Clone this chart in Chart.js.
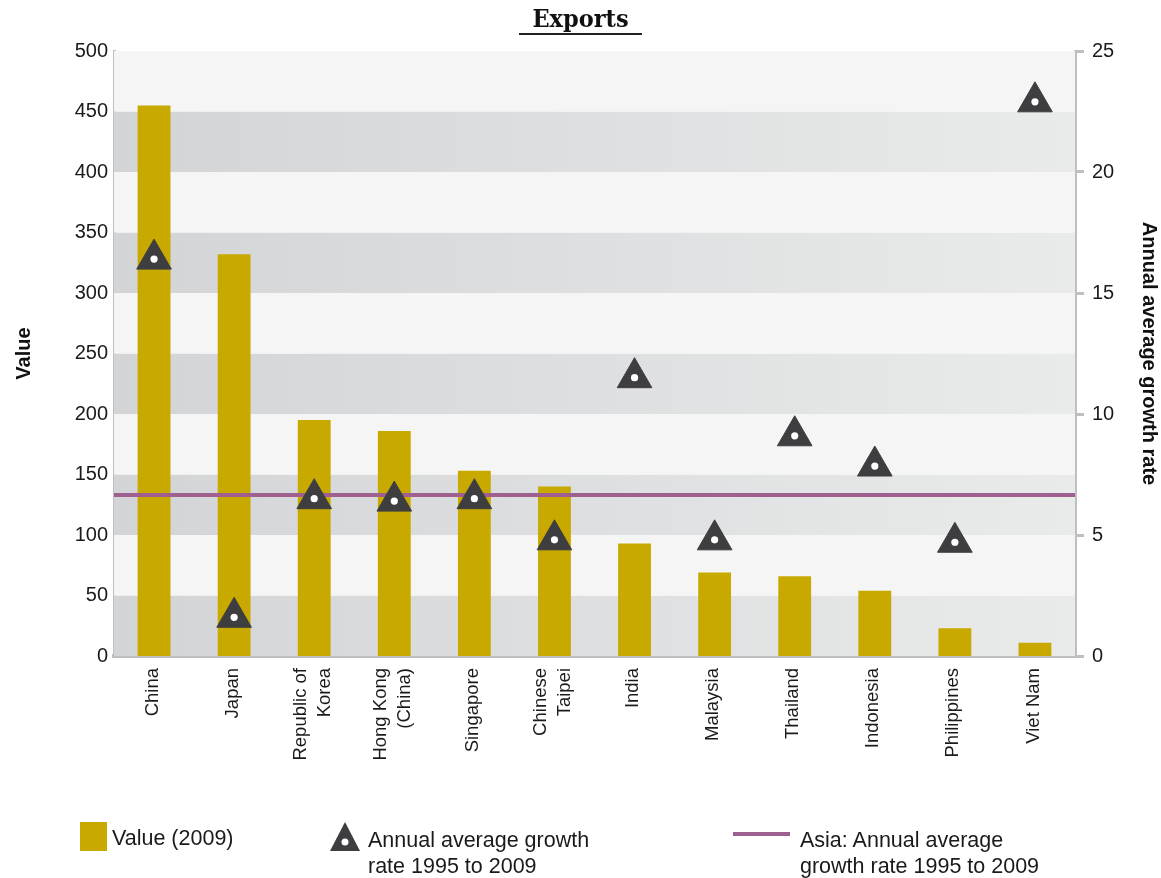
<!DOCTYPE html>
<html>
<head>
<meta charset="utf-8">
<script src="https://cdn.jsdelivr.net/npm/chart.js@4.4.1/dist/chart.umd.min.js"></script>
<style>
  body { margin: 0; background: #fff; font-family: "Liberation Sans", Arial, sans-serif; color: #1a1a1a; }
  #wrap { position: relative; width: 1161px; height: 878px; }
  #title {
    position: absolute; left: 519px; width: 123px; top: 4px; height: 29px;
    border-bottom: 2px solid #222; text-align: center;
    font: bold 25px "DejaVu Serif Condensed", "DejaVu Serif", serif; color: #111; line-height: 30px;
  }
  .leg { position: absolute; font-size: 21.5px; line-height: 26px; color: #1a1a1a; }
</style>
</head>
<body>
<div id="wrap">
  <canvas id="exportsChart" width="1161" height="878"></canvas>
  <div id="title">Exports</div>
  <div class="leg" style="left:80px;top:822px;width:27px;height:29px;background:#c8a900;"></div>
  <div class="leg" style="left:112px;top:825px;">Value (2009)</div>
  <svg class="leg" style="left:329px;top:821px;" width="32" height="31" viewBox="0 0 32 31">
    <polygon points="16,1 31,30 1,30" fill="#3e3e40"/>
    <circle cx="16" cy="21" r="3.5" fill="#fff"/>
  </svg>
  <div class="leg" style="left:368px;top:827px;">Annual average growth<br>rate 1995 to 2009</div>
  <div class="leg" style="left:733px;top:832px;width:57px;height:4px;background:#a0608f;"></div>
  <div class="leg" style="left:800px;top:827px;">Asia: Annual average<br>growth rate 1995 to 2009</div>
</div>
<script>
// Datos del gráfico
const countries = [
  'China', 'Japan', ['Republic of', 'Korea'], ['Hong Kong', '(China)'], 'Singapore',
  ['Chinese', 'Taipei'], 'India', 'Malaysia', 'Thailand', 'Indonesia', 'Philippines', 'Viet Nam'
];
const value2009 = [455, 332, 195, 186, 153, 140, 93, 69, 66, 54, 23, 11];
const growthRate = [16.4, 1.6, 6.5, 6.4, 6.5, 4.8, 11.5, 4.8, 9.1, 7.85, 4.7, 22.9];
const asiaGrowthRate = 6.65;
const valueTicks = [0, 50, 100, 150, 200, 250, 300, 350, 400, 450, 500];
const rateTicks = [0, 5, 10, 15, 20, 25];

const barColor = '#c8a900';
const triangleColor = '#3e3e40';
const asiaColor = '#a0608f';
const axisGray = '#bfbfbf';

// Bandas grises alternas detrás de las barras
const bandsPlugin = {
  id: 'bands',
  beforeDatasetsDraw(chart) {
    const { ctx, chartArea } = chart;
    const y = chart.scales.y;
    const grad = ctx.createLinearGradient(chartArea.left, 0, chartArea.right, 0);
    grad.addColorStop(0, '#d3d4d6');
    grad.addColorStop(1, '#e9eaea');
    ctx.save();
    for (let i = 0; i < valueTicks.length - 1; i++) {
      const top = y.getPixelForValue(valueTicks[i + 1]);
      const bottom = y.getPixelForValue(valueTicks[i]);
      ctx.fillStyle = i % 2 === 0 ? grad : '#f5f5f5';
      ctx.fillRect(chartArea.left, top, chartArea.right - chartArea.left, bottom - top);
    }
    ctx.restore();
  },
  // Línea de Asia encima de las barras, debajo de los triángulos
  afterDatasetDraw(chart, args) {
    if (args.meta.type !== 'bar') return;
    const { ctx, chartArea } = chart;
    const py = chart.scales.y1.getPixelForValue(asiaGrowthRate);
    ctx.save();
    ctx.strokeStyle = asiaColor;
    ctx.lineWidth = 4;
    ctx.beginPath();
    ctx.moveTo(chartArea.left, py);
    ctx.lineTo(chartArea.right, py);
    ctx.stroke();
    ctx.restore();
  },
  // Etiquetas del eje x, giradas y centradas en cada categoría
  afterDraw(chart) {
    const { ctx } = chart;
    const xs = chart.scales.x;
    ctx.save();
    ctx.font = '18.5px "Liberation Sans", Arial, sans-serif';
    ctx.fillStyle = '#1a1a1a';
    ctx.textAlign = 'right';
    ctx.textBaseline = 'middle';
    countries.forEach((label, i) => {
      const lines = Array.isArray(label) ? label : [label];
      ctx.save();
      ctx.translate(xs.getPixelForTick(i) - 1.5, xs.top + 12);
      ctx.rotate(-Math.PI / 2);
      lines.forEach((ln, j) => ctx.fillText(ln, 0, (j - (lines.length - 1) / 2) * 24.5));
      ctx.restore();
    });
    ctx.restore();
  }
};

const ctx = document.getElementById('exportsChart').getContext('2d');
new Chart(ctx, {
  data: {
    labels: countries,
    datasets: [
      {
        type: 'bar',
        label: 'Value (2009)',
        data: value2009,
        backgroundColor: barColor,
        yAxisID: 'y',
        barPercentage: 0.41,
        categoryPercentage: 1,
        order: 3
      },
      {
        type: 'line',
        label: 'Annual average growth rate 1995 to 2009',
        data: growthRate,
        showLine: false,
        pointStyle: 'triangle',
        pointRadius: 20,
        pointBackgroundColor: triangleColor,
        pointBorderColor: triangleColor,
        pointBorderWidth: 1,
        yAxisID: 'y1',
        order: 2
      },
      {
        type: 'line',
        label: 'dots',
        data: growthRate,
        showLine: false,
        pointStyle: 'circle',
        pointRadius: 3.6,
        pointBackgroundColor: '#ffffff',
        pointBorderWidth: 0,
        yAxisID: 'y1',
        order: 1
      }
    ]
  },
  options: {
    responsive: false,
    animation: false,
    layout: { autoPadding: false, padding: { top: 51, bottom: 82, left: 0, right: 0 } },
    plugins: { legend: { display: false }, tooltip: { enabled: false } },
    scales: {
      x: {
        grid: { display: false, drawTicks: false },
        border: { color: axisGray, width: 4 },
        ticks: { display: false },
        afterFit(scale) { scale.height = 140; }
      },
      y: {
        position: 'left',
        min: 0, max: 500,
        afterBuildTicks(scale) { scale.ticks = valueTicks.map(v => ({ value: v })); },
        grid: { display: false, drawTicks: false },
        border: { color: axisGray, width: 3 },
        ticks: { padding: 6, color: '#1a1a1a', font: { family: 'Liberation Sans', size: 20 } },
        title: {
          display: true, text: 'Value', color: '#111',
          font: { family: 'Liberation Sans', size: 20, weight: 'bold' },
          padding: { top: 12, bottom: 0 }
        },
        afterFit(scale) { scale.width = 114; }
      },
      y1: {
        position: 'right',
        min: 0, max: 25,
        afterBuildTicks(scale) { scale.ticks = rateTicks.map(v => ({ value: v })); },
        grid: { drawOnChartArea: false, drawTicks: true, tickLength: 9, color: axisGray, lineWidth: 3 },
        border: { color: axisGray, width: 3 },
        ticks: { padding: 8, color: '#1a1a1a', font: { family: 'Liberation Sans', size: 20 } },
        title: {
          display: true, text: 'Annual average growth rate', color: '#111',
          font: { family: 'Liberation Sans', size: 20, weight: 'bold' },
          padding: { top: 0, bottom: 0 }
        },
        afterFit(scale) { scale.width = 86; }
      }
    }
  },
  plugins: [bandsPlugin]
});
</script>
</body>
</html>
